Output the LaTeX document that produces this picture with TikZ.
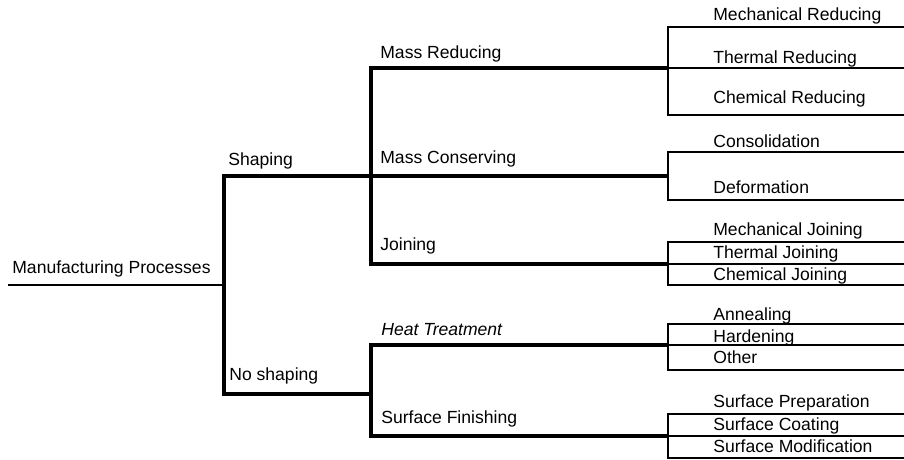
\documentclass[tikz,border=0pt]{standalone}
\usepackage{fontspec}
\setmainfont{Liberation Sans}
\usetikzlibrary{positioning}

\begin{document}
\begin{tikzpicture}[
			x=0.02cm, y=-0.02cm,
			branch/.style={line width=2pt, line join=miter},
			twig/.style={line width=1.7pt, line join=miter},
			lbl/.style={anchor=base west, inner sep=0pt, font=\fontsize{10}{12}\selectfont}
			]
	\useasboundingbox (0,0) rectangle (904,460);
	
	%% Reference columns: level-3 brackets and the right edge
	\coordinate (brk) at (668,0);
	\coordinate (edge) at (904,0);
	
	%% LEVEL 0: Manufacturing Processes
	\coordinate (root) at (8,285);
	\coordinate (split) at (224,285);
	\node[lbl] (manuf) at (12,273) {Manufacturing Processes};
	\draw[twig, line width=1.3pt] (root) -- (split);
	
	%% LEVEL 1: Shaping / No shaping
	\coordinate (sh) at (224,176);
	\coordinate (nsh) at (224,394);
	\coordinate (shJ) at (371,176);
	\coordinate (nshJ) at (371,394);
	\node[lbl] (shaping) at (228,165) {Shaping};
	\node[lbl] (noshaping) at (229,380) {No shaping};
	\draw[branch] (shJ) -- (sh) -- (nsh) -- (nshJ);
	
	%% LEVEL 2: Shaping branch
	\coordinate (mRed) at (371,68);
	\coordinate (mCon) at (371,176);
	\coordinate (join) at (371,264);
	\node[lbl] (massred) at (380,58) {Mass Reducing};
	\node[lbl] (masscon) at (380,163) {Mass Conserving};
	\node[lbl] (joining) at (380,250) {Joining};
	\draw[branch] (mRed -| brk) -- (mRed) -- (join) -- (join -| brk);
	\draw[branch] (mCon) -- (mCon -| brk);
	
	%% LEVEL 2: No shaping branch
	\coordinate (heat) at (371,345);
	\coordinate (surf) at (371,436);
	\node[lbl, font=\fontsize{10}{12}\selectfont\itshape] (heattr) at (381,335) {Heat Treatment};
	\node[lbl] (surffin) at (381,423) {Surface Finishing};
	\draw[branch] (heat -| brk) -- (heat) -- (surf) -- (surf -| brk);
	
	%% LEVEL 3: Mass Reducing
	\coordinate (mechR) at (668,27);
	\coordinate (thermR) at (668,68);
	\coordinate (chemR) at (668,115);
	\node[lbl] (mechred) at (713,20) {Mechanical Reducing};
	\node[lbl] (thermred) at (713,63) {Thermal Reducing};
	\node[lbl] (chemred) at (713,103) {Chemical Reducing};
	\draw[twig] (mechR -| edge) -- (mechR) -- (chemR) -- (chemR -| edge);
	\draw[twig] (thermR) -- (thermR -| edge);
	
	%% LEVEL 3: Mass Conserving
	\coordinate (consol) at (668,152);
	\coordinate (deform) at (668,200);
	\node[lbl] (consolidation) at (713,147) {Consolidation};
	\node[lbl] (deformation) at (713,193) {Deformation};
	\draw[twig] (consol -| edge) -- (consol) -- (deform) -- (deform -| edge);
	
	%% LEVEL 3: Joining
	\coordinate (mechJ) at (668,242);
	\coordinate (thermJ) at (668,264);
	\coordinate (chemJ) at (668,285);
	\node[lbl] (mechjoin) at (713,235) {Mechanical Joining};
	\node[lbl] (thermjoin) at (713,258) {Thermal Joining};
	\node[lbl] (chemjoin) at (713,280) {Chemical Joining};
	\draw[twig] (mechJ -| edge) -- (mechJ) -- (chemJ) -- (chemJ -| edge);
	\draw[twig] (thermJ) -- (thermJ -| edge);
	
	%% LEVEL 3: Heat Treatment
	\coordinate (anneal) at (668,324);
	\coordinate (harden) at (668,345);
	\coordinate (other) at (668,370);
	\node[lbl] (annealing) at (713,320) {Annealing};
	\node[lbl] (hardening) at (713,342) {Hardening};
	\node[lbl] (otherht) at (713,363) {Other};
	\draw[twig] (anneal -| edge) -- (anneal) -- (other) -- (other -| edge);
	\draw[twig] (harden) -- (harden -| edge);
	
	%% LEVEL 3: Surface Finishing
	\coordinate (surfP) at (668,414);
	\coordinate (surfC) at (668,436);
	\coordinate (surfM) at (668,458);
	\node[lbl] (surfprep) at (713,407) {Surface Preparation};
	\node[lbl] (surfcoat) at (713,430) {Surface Coating};
	\node[lbl] (surfmod) at (713,452) {Surface Modification};
	\draw[twig] (surfP -| edge) -- (surfP) -- (surfM) -- (surfM -| edge);
	\draw[twig] (surfC) -- (surfC -| edge);
	
\end{tikzpicture}
\end{document}
